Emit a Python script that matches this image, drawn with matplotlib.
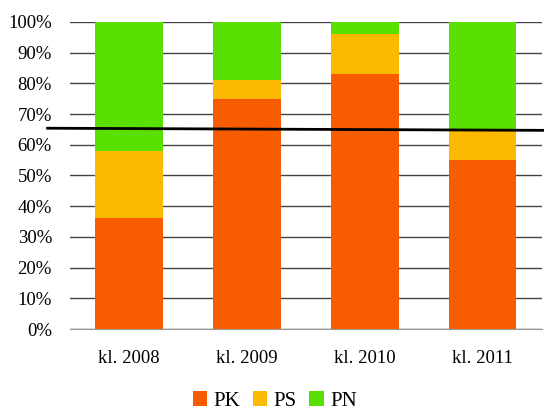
import numpy as np
import matplotlib.pyplot as plt
from matplotlib.ticker import FuncFormatter

plt.rcParams['font.family'] = ['Liberation Serif', 'DejaVu Serif']

# share of each group per class year, in percent
years = ['kl. 2008', 'kl. 2009', 'kl. 2010', 'kl. 2011']
pk = [36, 75, 83, 55]
ps = [22, 6, 13, 10]
pn = [42, 19, 4, 35]
threshold = 65

colors = {'PK': '#F75D00', 'PS': '#FBBA00', 'PN': '#5AE000'}

fig = plt.figure(figsize=(5.44, 4.11), dpi=100)
ax = fig.add_axes([0.1287, 0.1995, 0.8673, 0.747])

x = np.arange(len(years))
width = 0.57
bottom = np.zeros(len(years))
for name, vals in [('PK', pk), ('PS', ps), ('PN', pn)]:
    ax.bar(x, vals, width, bottom=bottom, color=colors[name], label=name, zorder=2)
    bottom += np.array(vals)

# reference level drawn across the whole plot
ax.plot([-0.69, 3.55], [threshold + 0.4, threshold - 0.3], color='black', lw=2,
        clip_on=False, zorder=3)

ax.set_xlim(-0.5, 3.5)
ax.set_ylim(0, 100)
ax.set_yticks(range(0, 101, 10))
ax.yaxis.set_major_formatter(FuncFormatter(lambda v, p: f'{v:.0f}%'))
ax.set_xticks(x)
ax.set_xticklabels(years)
ax.tick_params(axis='both', length=0, labelsize=13.5)
ax.tick_params(axis='x', pad=15)
ax.tick_params(axis='y', pad=13)
ax.yaxis.grid(True, color='#444444', lw=1, zorder=0)
ax.set_axisbelow(True)
for side in ['top', 'right', 'left']:
    ax.spines[side].set_visible(False)
ax.spines['bottom'].set_color('#999999')

fig.legend(loc='lower center', bbox_to_anchor=(0.505, -0.045), ncol=3, frameon=False,
           fontsize=15, handlelength=0.7, handleheight=0.7, handletextpad=0.3,
           columnspacing=0.6)

fig.savefig('out.png', dpi=100)
